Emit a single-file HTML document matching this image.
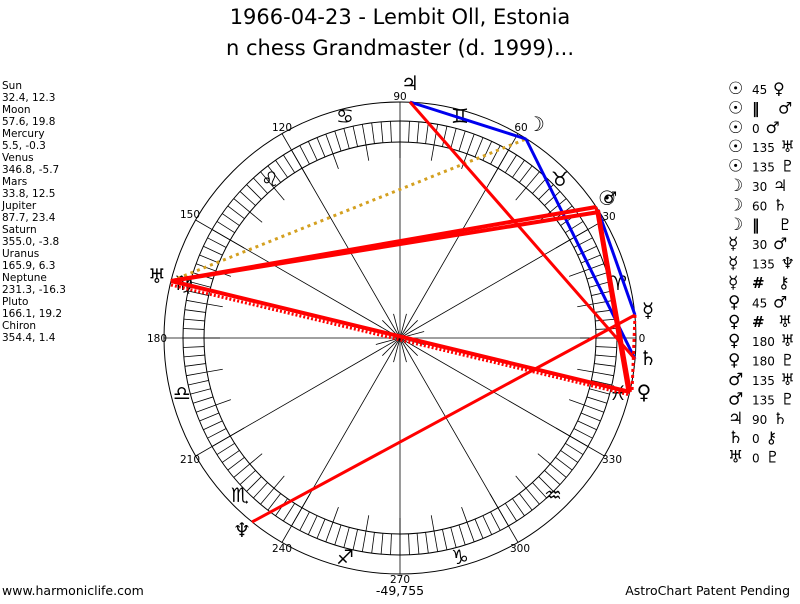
<!DOCTYPE html>
<html><head><meta charset="utf-8"><style>
body{margin:0;background:#fff;width:800px;height:600px;overflow:hidden;font-family:"DejaVu Sans",sans-serif}
</style></head><body>
<svg width="800" height="600" xmlns="http://www.w3.org/2000/svg" font-family="DejaVu Sans, sans-serif">
<text x="400" y="24" font-size="21" text-anchor="middle">1966-04-23 - Lembit Oll, Estonia</text>
<text x="400" y="55" font-size="21" text-anchor="middle">n chess Grandmaster (d. 1999)...</text>
<g font-size="10.5" fill="#000">
<text x="2" y="89">Sun</text><text x="2" y="101">32.4, 12.3</text>
<text x="2" y="113">Moon</text><text x="2" y="125">57.6, 19.8</text>
<text x="2" y="137">Mercury</text><text x="2" y="149">5.5, -0.3</text>
<text x="2" y="161">Venus</text><text x="2" y="173">346.8, -5.7</text>
<text x="2" y="185">Mars</text><text x="2" y="197">33.8, 12.5</text>
<text x="2" y="209">Jupiter</text><text x="2" y="221">87.7, 23.4</text>
<text x="2" y="233">Saturn</text><text x="2" y="245">355.0, -3.8</text>
<text x="2" y="257">Uranus</text><text x="2" y="269">165.9, 6.3</text>
<text x="2" y="281">Neptune</text><text x="2" y="293">231.3, -16.3</text>
<text x="2" y="305">Pluto</text><text x="2" y="317">166.1, 19.2</text>
<text x="2" y="329">Chiron</text><text x="2" y="341">354.4, 1.4</text>
</g>
<text x="2" y="595" font-size="12.5">www.harmoniclife.com</text>
<text x="400" y="595" font-size="12.5" text-anchor="middle">-49,755</text>
<text x="790" y="595" font-size="12.5" text-anchor="end">AstroChart Patent Pending</text>
<g id="wheel"></g>
<g font-size="10.5" text-anchor="middle" fill="#000">
<text x="400" y="100">90</text><text x="282" y="131">120</text><text x="190" y="218">150</text>
<text x="157" y="342">180</text><text x="190" y="463">210</text><text x="282" y="552">240</text>
<text x="400" y="583">270</text><text x="520" y="552">300</text><text x="612" y="463">330</text>
<text x="642" y="342">0</text><text x="609" y="220">30</text><text x="521" y="131">60</text>
</g>
<g font-size="20" text-anchor="middle" fill="#000" font-weight="bold">
<text x="345" y="123">♋</text><text x="270" y="186">♌</text><text x="184" y="290">♍</text>
<text x="182" y="400">♎</text><text x="240" y="502">♏</text><text x="345" y="564">♐</text>
<text x="460" y="564">♑</text><text x="553" y="502">♒</text><text x="618" y="400">♓</text>
<text x="618" y="290">♈</text><text x="560" y="186">♉</text><text x="460" y="123">♊</text>
</g>
<g stroke-linecap="butt" fill="none">
<line x1="171" y1="281" x2="526" y2="139" stroke="#d4a020" stroke-width="3" stroke-dasharray="3,4"/>
<line x1="410" y1="102" x2="526" y2="139" stroke="#0000ee" stroke-width="3"/>
<line x1="526" y1="139" x2="635" y2="359" stroke="#0000ee" stroke-width="3"/>
<line x1="598" y1="210" x2="635" y2="315" stroke="#0000ee" stroke-width="3"/>
<line x1="410" y1="102" x2="635" y2="359" stroke="#ff0000" stroke-width="3"/>
<line x1="171" y1="281" x2="599" y2="212" stroke="#ff0000" stroke-width="4"/>
<line x1="171" y1="281" x2="596" y2="207" stroke="#ff0000" stroke-width="4"/>
<line x1="171" y1="281" x2="630" y2="392" stroke="#ff0000" stroke-width="4"/>
<line x1="171" y1="285" x2="630" y2="395" stroke="#ff0000" stroke-width="3" stroke-dasharray="2,2"/>
<line x1="252" y1="522" x2="635" y2="315" stroke="#ff0000" stroke-width="3"/>
<line x1="598" y1="210" x2="630" y2="392" stroke="#ff0000" stroke-width="4"/>
<line x1="596" y1="207" x2="628" y2="392" stroke="#ff0000" stroke-width="3"/>
<line x1="635" y1="315" x2="632" y2="392" stroke="#ff0000" stroke-width="3" stroke-dasharray="3,3"/>
</g>
<g font-size="20" text-anchor="middle" fill="#000" font-weight="bold">
<text x="410" y="90">♃</text><text x="536" y="131">☽</text><text x="607" y="205">☉</text>
<text x="610" y="203" font-size="16">♂</text><text x="648" y="317">☿</text><text x="648" y="365">♄</text>
<text x="644" y="399">♀</text><text x="157" y="283">♅</text><text x="242" y="537">♆</text>
</g>
<g fill="#000" id="asp"></g>
<script>
var NS="http://www.w3.org/2000/svg",g=document.getElementById("wheel"),cx=400,cy=338;
function L(a,r1,r2,w){var t=a*Math.PI/180,l=document.createElementNS(NS,"line");
l.setAttribute("x1",cx+r1*Math.cos(t));l.setAttribute("y1",cy-r1*Math.sin(t));
l.setAttribute("x2",cx+r2*Math.cos(t));l.setAttribute("y2",cy-r2*Math.sin(t));
l.setAttribute("stroke","#000");l.setAttribute("stroke-width",w||1);g.appendChild(l);}
function C(r){var c=document.createElementNS(NS,"circle");c.setAttribute("cx",cx);c.setAttribute("cy",cy);c.setAttribute("r",r);c.setAttribute("fill","none");c.setAttribute("stroke","#000");g.appendChild(c);}
C(236);C(217);C(196);
for(var a=0;a<360;a+=2.5)L(a,196,217,0.8);
for(var a=0;a<360;a+=10)L(a,180,196,0.8);
for(var a=0;a<360;a+=30)L(a,0,236,0.8);
for(var a=15;a<360;a+=30)L(a,0,25,0.8);
var rows=[["☉","45","♀"],["☉","‖","♂"],["☉","0","♂"],["☉","135","♅"],["☉","135","♇"],["☽","30","♃"],["☽","60","♄"],["☽","‖","♇"],["☿","30","♂"],["☿","135","♆"],["☿","#","⚷"],["♀","45","♂"],["♀","#","♅"],["♀","180","♅"],["♀","180","♇"],["♂","135","♅"],["♂","135","♇"],["♃","90","♄"],["♄","0","⚷"],["♅","0","♇"]];
var as=document.getElementById("asp");
function T(x,y,s,fs,b){var t=document.createElementNS(NS,"text");t.setAttribute("x",x);t.setAttribute("y",y);t.setAttribute("font-size",fs);if(b)t.setAttribute("font-weight","bold");t.textContent=s;as.appendChild(t);}
rows.forEach(function(r,i){var y=94+i*19.4;
var sym=(r[1]=="‖"||r[1]=="#");
T(728,y,r[0],17,true);T(752,y,r[1],sym?15:12,sym);
T(sym?778:752+r[1].length*7.5+6,y,r[2],16,false);});
</script>
</svg>
</body></html>
